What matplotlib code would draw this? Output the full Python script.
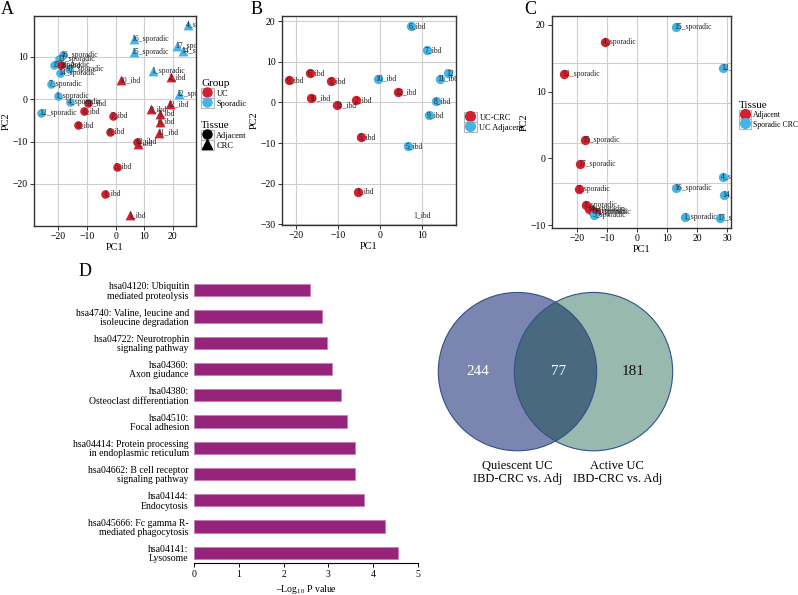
import matplotlib
matplotlib.use('Agg')
import matplotlib.pyplot as plt
from matplotlib.patches import Circle, Rectangle
from matplotlib.lines import Line2D
from matplotlib.legend import Legend
from matplotlib.legend_handler import HandlerLine2D

plt.rcParams['font.family'] = ['Liberation Serif', 'DejaVu Serif']
plt.rcParams['mathtext.fontset'] = 'custom'
plt.rcParams['mathtext.rm'] = 'Liberation Serif'

RED = '#D3202E'
BLUE = '#45B3E6'
PURPLE = '#96247A'

# ---- panel A: all samples
a_uc_adj_lab = ['10_ibd', '11_ibd', '6_ibd', '7_ibd', '9_ibd', '8_ibd', '5_ibd', '1_ibd', '12_ibd']
a_uc_adj_x = [-19.1, -9.7, -10.9, -0.9, -13.0, -2.1, 0.5, -3.7, 7.5]
a_uc_adj_y = [8.0, -0.9, -2.8, -3.9, -6.1, -7.7, -15.9, -22.3, -10.0]
a_uc_crc_lab = ['10_ibd', '2_ibd', '12_ibd', '9_ibd', '3_ibd', '6_ibd', '11_ibd', '5_ibd', '1_ibd']
a_uc_crc_x = [2.0, 19.2, 18.9, 12.5, 15.4, 15.4, 15.2, 7.8, 5.1]
a_uc_crc_y = [4.5, 5.1, -1.25, -2.4, -3.4, -5.3, -7.9, -10.5, -27.4]
a_sp_adj_lab = ['16_sporadic', '13_sporadic', '15_sporadic', '14_sporadic', '17_sporadic',
                '7_sporadic', '1_sporadic', '4_sporadic', '12_sporadic']
a_sp_adj_x = [-18.5, -19.6, -21.4, -19.3, -16.4, -22.6, -20.2, -15.8, -26.1]
a_sp_adj_y = [10.5, 9.5, 8.0, 6.25, 7.2, 3.5, 0.7, -0.6, -3.2]
a_sp_crc_lab = ['4_sporadic', '16_sporadic', '17_sporadic', '14_sporadic', '15_sporadic',
                '1_sporadic', '12_sporadic']
a_sp_crc_x = [25.4, 6.3, 21.5, 23.6, 6.3, 13.1, 22.1]
a_sp_crc_y = [17.5, 14.2, 12.5, 11.25, 11.1, 6.6, 1.2]

# ---- panel B: UC
b_crc_lab = ['9_ibd', '6_ibd', '3_ibd', '10_ibd', '11_ibd', '2_ibd', '12_ibd', '5_ibd', '1_ibd']
b_crc_x = [-21.7, -16.7, -11.8, -16.5, -10.2, -5.7, 4.2, -4.6, -5.2]
b_crc_y = [5.5, 7.3, 5.2, 1.0, -0.7, 0.6, 2.6, -8.6, -22.0]
b_adj_lab = ['6_ibd', '7_ibd', '12_ibd', '11_ibd', '10_ibd', '8_ibd', '9_ibd', '5_ibd']
b_adj_x = [7.3, 11.2, 16.2, 14.2, -0.6, 13.4, 11.7, 6.6]
b_adj_y = [18.8, 12.9, 7.3, 5.9, 5.9, 0.4, -3.1, -10.8]
b_extra_lab = ['1_ibd']
b_extra_x = [8.5]
b_extra_y = [-27.7]

# ---- panel C: sporadic
c_adj_lab = ['4_sporadic', '12_sporadic', '15_sporadic', '17_sporadic', '7_sporadic',
             '1_sporadic', '14_sporadic', '13_sporadic', '16_sporadic']
c_adj_x = [-10.9, -24.5, -17.6, -19.2, -19.5, -17.3, -16.1, -15.0, -13.9]
c_adj_y = [17.4, 12.6, 2.8, -0.9, -4.5, -7.0, -7.6, -7.9, -8.0]
c_crc_lab = ['15_sporadic', '12_sporadic', '4_sporadic', '16_sporadic', '14_sporadic',
             '1_sporadic', '17_sporadic', '5_sporadic']
c_crc_x = [13.0, 28.5, 28.5, 13.0, 29.0, 16.0, 27.4, -14.4]
c_crc_y = [19.7, 13.5, -2.7, -4.4, -5.4, -8.8, -8.9, -8.5]

# ---- panel D: KEGG pathways
pathways = ['hsa04120: Ubiquitin\nmediated proteolysis',
            'hsa4740: Valine, leucine and\nisoleucine degradation',
            'hsa04722: Neurotrophin\nsignaling pathway',
            'hsa04360:\nAxon giudance',
            'hsa04380:\nOsteoclast differentiation',
            'hsa04510:\nFocal adhesion',
            'hsa04414: Protein processing\nin endoplasmic reticulum',
            'hsa04662: B cell receptor\nsignaling pathway',
            'hsa04144:\nEndocytosis',
            'hsa045666: Fc gamma R-\nmediated phagocytosis',
            'hsa04141:\nLysosome']
neglogp = [2.58, 2.85, 2.96, 3.07, 3.29, 3.42, 3.59, 3.59, 3.80, 4.27, 4.56]

# ---- venn
venn_counts = [244, 77, 181]
venn_sets = ['Quiescent UC\nIBD-CRC vs. Adj', 'Active UC\nIBD-CRC vs. Adj']


class BoxedKey(HandlerLine2D):
    # ggplot-like legend key: marker inside a grey square
    def create_artists(self, legend, orig_handle, xdescent, ydescent, width, height, fontsize, trans):
        arts = super().create_artists(legend, orig_handle, xdescent, ydescent,
                                      width, height, fontsize, trans)
        box = Rectangle((-xdescent, -ydescent), width, height, fc='white',
                        ec='#b5b5b5', lw=0.8, transform=trans)
        return [box] + list(arts)


def style_pca(ax):
    ax.grid(True, color='#cfcfcf', lw=0.8)
    ax.set_axisbelow(True)
    for s in ax.spines.values():
        s.set_color('#333333')
        s.set_linewidth(1.0)
    ax.tick_params(labelsize=7, length=3, width=0.7, color='#333333', pad=1.5)
    ax.set_xlabel('PC1', fontsize=7.5, labelpad=1)
    ax.set_ylabel('PC2', fontsize=7.5, labelpad=1)


def labels(ax, xs, ys, names):
    for x, y, t in zip(xs, ys, names):
        ax.annotate(t, (x, y), xytext=(-1.5, 0), textcoords='offset points',
                    fontsize=5.5, ha='left', va='center', color='#222222',
                    annotation_clip=False, clip_on=True)


def boxed_legend(ax, handles, names, title, anchor, fs=6.0):
    lg = Legend(ax, handles, names, title=title, loc='upper left',
                bbox_to_anchor=anchor, bbox_transform=fig.transFigure,
                frameon=False, fontsize=fs, title_fontsize=8,
                handlelength=1.5, handleheight=1.5, handletextpad=0.35,
                labelspacing=0.0, borderpad=0.0, borderaxespad=0.0,
                alignment='left', handler_map={Line2D: BoxedKey()})
    ax.add_artist(lg)
    return lg


def key(color, marker='o', ms=6.5):
    return Line2D([], [], marker=marker, ls='none', color=color, markersize=ms)


fig = plt.figure(figsize=(7.98, 5.95), dpi=100)

# Panel A
axA = fig.add_axes([0.0426, 0.6202, 0.203, 0.353])
axA.scatter(a_sp_adj_x, a_sp_adj_y, s=38, marker='o', color=BLUE, lw=0)
axA.scatter(a_uc_adj_x, a_uc_adj_y, s=38, marker='o', color=RED, lw=0)
axA.scatter(a_sp_crc_x, a_sp_crc_y, s=50, marker='^', color=BLUE, lw=0)
axA.scatter(a_uc_crc_x, a_uc_crc_y, s=50, marker='^', color=RED, lw=0)
labels(axA, a_sp_adj_x, a_sp_adj_y, a_sp_adj_lab)
labels(axA, a_uc_adj_x, a_uc_adj_y, a_uc_adj_lab)
labels(axA, a_sp_crc_x, a_sp_crc_y, a_sp_crc_lab)
labels(axA, a_uc_crc_x, a_uc_crc_y, a_uc_crc_lab)
axA.set_xlim(-28.5, 28.1)
axA.set_ylim(-29.9, 19.6)
axA.set_xticks([-20, -10, 0, 10, 20])
axA.set_yticks([-20, -10, 0, 10])
style_pca(axA)
boxed_legend(axA, [key(RED), key(BLUE)], ['UC', 'Sporadic'], 'Group',
             (201 / 798, 1 - 79 / 595))
boxed_legend(axA, [key('black'), key('black', '^', 7.5)], ['Adjacent', 'CRC'], 'Tissue',
             (201 / 798, 1 - 121 / 595))

# Panel B
axB = fig.add_axes([0.353, 0.6218, 0.2184, 0.3513])
axB.scatter(b_crc_x, b_crc_y, s=45, color=RED, lw=0)
axB.scatter(b_adj_x, b_adj_y, s=45, color=BLUE, lw=0)
labels(axB, b_crc_x, b_crc_y, b_crc_lab)
labels(axB, b_adj_x, b_adj_y, b_adj_lab)
labels(axB, b_extra_x, b_extra_y, b_extra_lab)
axB.set_xlim(-23.5, 18.1)
axB.set_ylim(-30.2, 21.3)
axB.set_xticks([-20, -10, 0, 10])
axB.set_yticks([-30, -20, -10, 0, 10, 20])
style_pca(axB)
boxed_legend(axB, [key(RED, ms=7), key(BLUE, ms=7)], ['UC-CRC', 'UC Adjacent'], None,
             (464 / 798, 1 - 112 / 595))

# Panel C
axC = fig.add_axes([0.6917, 0.6168, 0.2243, 0.3563])
axC.scatter(c_adj_x, c_adj_y, s=45, color=RED, lw=0)
axC.scatter(c_crc_x, c_crc_y, s=45, color=BLUE, lw=0)
labels(axC, c_adj_x, c_adj_y, c_adj_lab)
labels(axC, c_crc_x, c_crc_y, c_crc_lab)
axC.set_xlim(-28.5, 31.2)
axC.set_ylim(-10.4, 21.3)
axC.set_xticks([-20, -10, 0, 10, 20, 30])
axC.set_yticks([-10, 0, 10, 20])
style_pca(axC)
axC.yaxis.grid(False)
for gy in [14.3, 8.26, 2.24, -3.73]:
    axC.axhline(gy, color='#cfcfcf', lw=0.8, zorder=0)
boxed_legend(axC, [key(RED, ms=7), key(BLUE, ms=7)], ['Adjacent', 'Sporadic CRC'], 'Tissue',
             (739 / 798, 1 - 101 / 595), fs=5.6)

# Panel D
axD = fig.add_axes([0.2435, 0.0533, 0.28, 0.4854])
ypos = list(range(len(pathways)))
axD.barh(ypos, neglogp, height=0.46, color=PURPLE, edgecolor='#C77DB5', lw=0.6)
axD.set_ylim(len(pathways) - 0.6, -0.6)
axD.set_xlim(0, 5)
axD.set_yticks(ypos)
axD.set_yticklabels(pathways, fontsize=7, linespacing=1.05)
axD.tick_params(axis='y', length=0, pad=4)
axD.tick_params(axis='x', labelsize=7, length=3, width=0.7, pad=2)
for s in ['top', 'right', 'left']:
    axD.spines[s].set_visible(False)
axD.spines['bottom'].set_linewidth(0.8)
axD.set_xlabel('–Log$_{10}$ P value', fontsize=7, labelpad=3)

# Venn
axV = fig.add_axes([0.5388, 0.1765, 0.3634, 0.3529])
axV.set_xlim(-1.105, 2.557)
axV.set_ylim(-1.495, 1.157)
axV.axis('off')
r = 1.0
d = 0.96
left = Circle((0, 0), r, fc='#7A86B0', ec='none')
right = Circle((d, 0), r, fc='#98B9AE', ec='none')
axV.add_patch(left)
axV.add_patch(right)
inter = Circle((d, 0), r, fc='#49697E', ec='none')
axV.add_patch(inter)
inter.set_clip_path(left)
axV.add_patch(Circle((0, 0), r, fc='none', ec='#34508A', lw=0.8))
axV.add_patch(Circle((d, 0), r, fc='none', ec='#34508A', lw=0.8))
axV.text(-0.5, 0, str(venn_counts[0]), color='white', fontsize=11, ha='center', va='center')
axV.text(d / 2 + 0.04, 0, str(venn_counts[1]), color='white', fontsize=11, ha='center', va='center')
axV.text(d + 0.5, 0, str(venn_counts[2]), color='#111111', fontsize=11, ha='center', va='center')
axV.text(0, -1.12, venn_sets[0], fontsize=9, ha='center', va='top', linespacing=1.1)
axV.text(1.26, -1.12, venn_sets[1], fontsize=9, ha='center', va='top', linespacing=1.1)

# panel letters
for letter, x, y in [('A', 7, 9), ('B', 257, 9), ('C', 530, 9), ('D', 85, 272)]:
    fig.text(x / 798, 1 - y / 595, letter, fontsize=13, ha='center', va='center')

fig.savefig('out.png', dpi=100)
